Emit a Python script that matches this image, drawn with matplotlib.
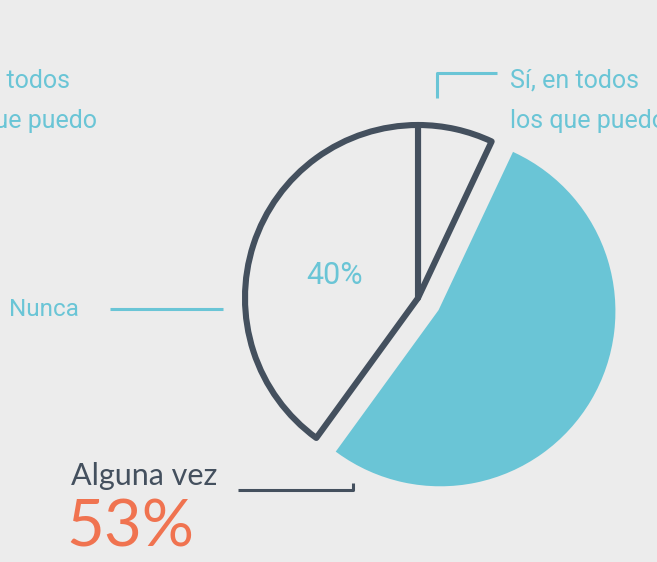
import matplotlib
matplotlib.use('Agg')
import matplotlib.pyplot as plt

# data
labels = ['Sí, en todos\nlos que puedo', 'Alguna vez', 'Nunca']
values = [7, 53, 40]
explode_frac = [0, 0.15, 0]

bg = '#ececec'
dark = '#44505e'
blue = '#6ac5d6'
orange = '#f07350'

W, H = 657, 562
fig = plt.figure(figsize=(W / 100, H / 100), dpi=100)
fig.patch.set_facecolor(bg)
ax = fig.add_axes([0, 0, 1, 1])


def py(y):
    # pixel row -> data y
    return H - y


R = 173
wedges, _ = ax.pie(values, explode=[e * R for e in explode_frac], startangle=90,
                   counterclock=False, center=(418, py(298)), radius=R, frame=True)
ax.set_xlim(0, W)
ax.set_ylim(0, H)
ax.set_aspect('equal')
ax.axis('off')

for i, w in enumerate(wedges):
    if i == 1:
        w.set_facecolor(blue)
        w.set_edgecolor(blue)
        w.set_linewidth(3)
    else:
        w.set_facecolor(bg)
        w.set_edgecolor(dark)
        w.set_linewidth(4.4)
        w.set_joinstyle('round')
        w.set_zorder(3)

light = dict(family=['Roboto', 'DejaVu Sans'], fontweight='normal', color=blue)

# Nunca
ax.text(9, py(309), labels[2], fontsize=17.5, va='center', ha='left', **light)
ax.plot([110, 223], [py(309), py(309)], color=blue, lw=2.2, solid_capstyle='butt')
ax.text(335, py(275), '40%', fontsize=22, va='center', ha='center', **light)

# Sí, en todos
ax.text(510, py(101), labels[0], fontsize=18, va='center', ha='left',
        linespacing=1.85, **light)
ax.plot([497, 437, 437], [py(73), py(73), py(98)], color=blue, lw=2.2,
        solid_capstyle='butt')
# clipped copy at the left edge
ax.text(97, py(101), labels[0], fontsize=18, va='center', ha='right',
        linespacing=1.85, multialignment='left', **light)

# Alguna vez
ax.text(71, py(476), labels[1], fontsize=22, va='center', ha='left',
        family=['Lato', 'DejaVu Sans'], color=dark)
ax.text(66, py(528), '53%', fontsize=47, va='center', ha='left',
        family=['Lato', 'DejaVu Sans'], color=orange)
ax.plot([238, 353, 353], [py(490), py(490), py(483)], color=dark, lw=2.2,
        solid_capstyle='butt')

fig.savefig('out.png', dpi=100, facecolor=bg)
